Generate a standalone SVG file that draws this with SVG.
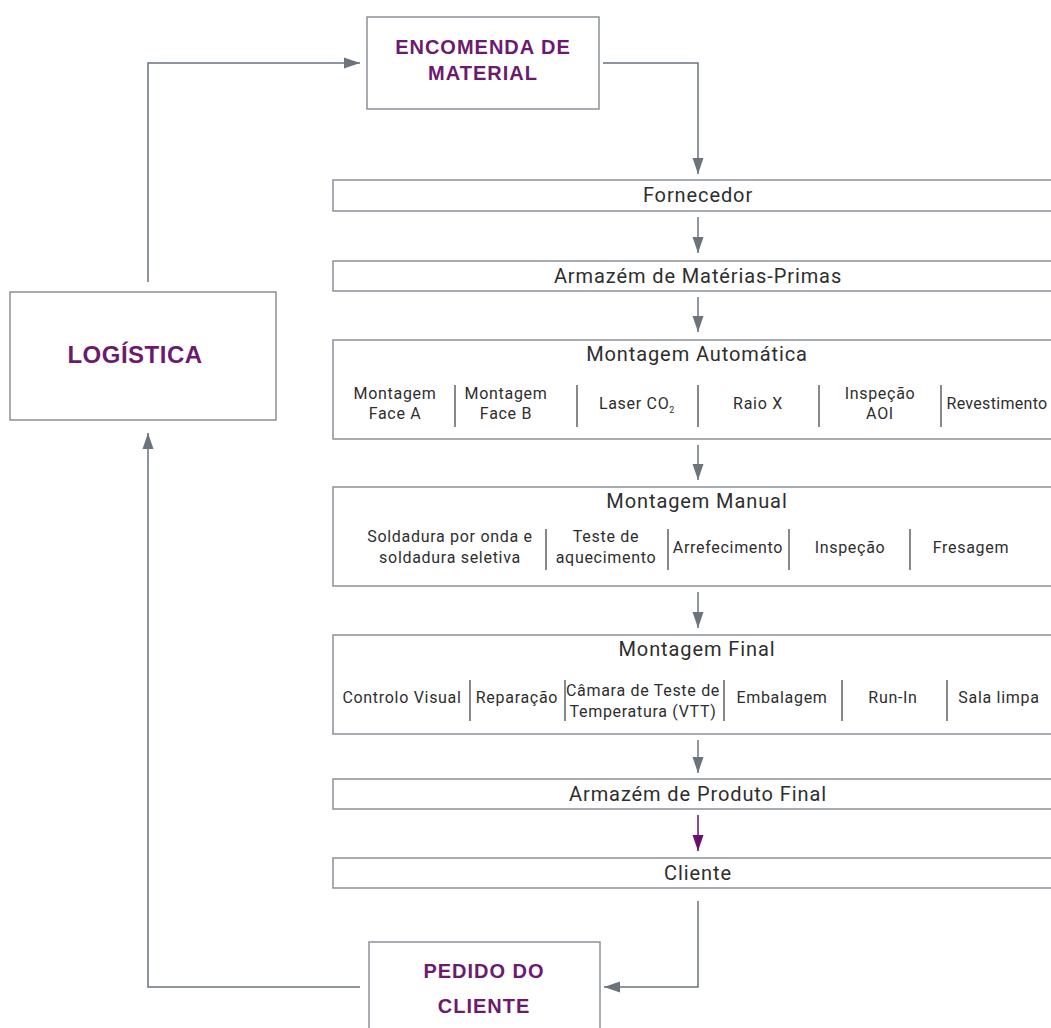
<svg xmlns="http://www.w3.org/2000/svg" width="1051" height="1028" viewBox="0 0 1051 1028">
<style>
.box{fill:#fff;stroke:#8a9099;stroke-width:1.5}
.bar{fill:#fff;stroke:#8a9099;stroke-width:1.5}
.div{stroke:#3a3a3a;stroke-width:1.2}
.con{fill:none;stroke:#6b737d;stroke-width:1.5}
.conp{fill:none;stroke:#6a0f6c;stroke-width:1.5}
.hd{font-family:"Liberation Sans",Arial,sans-serif;font-weight:bold;fill:#6c1a6f;text-anchor:middle;font-size:20px;letter-spacing:1px}
.t{font-family:Roboto,"Liberation Sans",sans-serif;fill:#2e2e2e;text-anchor:middle;font-size:20px;letter-spacing:0.9px}
.s{font-family:Roboto,"Liberation Sans",sans-serif;fill:#2e2e2e;text-anchor:middle;font-size:16px;letter-spacing:0.7px}
</style>
<defs>
<marker id="ag" markerUnits="userSpaceOnUse" markerWidth="16" markerHeight="12" refX="16" refY="6" orient="auto"><path d="M0,0.5 L16,6 L0,11.5 z" fill="#6b737d"/></marker>
<marker id="ap" markerUnits="userSpaceOnUse" markerWidth="16" markerHeight="12" refX="16" refY="6" orient="auto"><path d="M0,0.5 L16,6 L0,11.5 z" fill="#6a0f6c"/></marker>
</defs>
<rect width="1051" height="1028" fill="#fff"/>

<g id="connectors">
<polyline class="con" points="148,282 148,63 360,63" marker-end="url(#ag)"/>
<polyline class="con" points="603,63 698,63 698,174" marker-end="url(#ag)"/>
<line class="con" x1="698" y1="217" x2="698" y2="253" marker-end="url(#ag)"/>
<line class="con" x1="698" y1="297" x2="698" y2="332" marker-end="url(#ag)"/>
<line class="con" x1="698" y1="445" x2="698" y2="480" marker-end="url(#ag)"/>
<line class="con" x1="698" y1="592" x2="698" y2="628" marker-end="url(#ag)"/>
<line class="con" x1="698" y1="740" x2="698" y2="773" marker-end="url(#ag)"/>
<line class="conp" x1="698" y1="815" x2="698" y2="851" marker-end="url(#ap)"/>
<polyline class="con" points="698,901 698,987 604,987" marker-end="url(#ag)"/>
<polyline class="con" points="360,987 148,987 148,433" marker-end="url(#ag)"/>
</g>

<g id="encomenda">
<rect class="box" x="367" y="17" width="232" height="92"/>
<text class="hd" x="483" y="54">ENCOMENDA DE</text>
<text class="hd" x="483" y="80">MATERIAL</text>
</g>

<g id="logistica">
<rect class="box" x="10" y="292" width="266" height="128"/>
<text class="hd" x="135" y="363" style="font-size:24px;letter-spacing:0.5px">LOGÍSTICA</text>
</g>

<g id="pedido">
<rect class="box" x="369" y="942" width="231" height="110"/>
<text class="hd" x="484" y="978">PEDIDO DO</text>
<text class="hd" x="484" y="1013">CLIENTE</text>
</g>

<g id="fornecedor">
<rect class="bar" x="333" y="180" width="800" height="31"/>
<text class="t" x="698" y="202">Fornecedor</text>
</g>

<g id="armazem-mp">
<rect class="bar" x="333" y="261" width="800" height="30"/>
<text class="t" x="698" y="283">Armazém de Matérias-Primas</text>
</g>

<g id="montagem-automatica">
<rect class="bar" x="333" y="340" width="800" height="99"/>
<text class="t" x="697" y="361">Montagem Automática</text>
<line class="div" x1="455" y1="385" x2="455" y2="427"/>
<line class="div" x1="577" y1="385" x2="577" y2="427"/>
<line class="div" x1="698" y1="385" x2="698" y2="427"/>
<line class="div" x1="819" y1="385" x2="819" y2="427"/>
<line class="div" x1="941" y1="385" x2="941" y2="427"/>
<text class="s" x="395" y="399">Montagem</text>
<text class="s" x="395" y="419">Face A</text>
<text class="s" x="506" y="399">Montagem</text>
<text class="s" x="506" y="419">Face B</text>
<text class="s" x="637" y="409">Laser CO<tspan font-size="9" dy="4">2</tspan></text>
<text class="s" x="758" y="409">Raio X</text>
<text class="s" x="880" y="399">Inspeção</text>
<text class="s" x="880" y="419">AOI</text>
<text class="s" x="997" y="409" style="letter-spacing:0.3px">Revestimento</text>
</g>

<g id="montagem-manual">
<rect class="bar" x="333" y="487" width="800" height="99"/>
<text class="t" x="697" y="508">Montagem Manual</text>
<line class="div" x1="546" y1="529" x2="546" y2="570"/>
<line class="div" x1="668" y1="529" x2="668" y2="570"/>
<line class="div" x1="789" y1="529" x2="789" y2="570"/>
<line class="div" x1="910" y1="529" x2="910" y2="570"/>
<text class="s" x="450" y="542">Soldadura por onda e</text>
<text class="s" x="450" y="563">soldadura seletiva</text>
<text class="s" x="606" y="542">Teste de</text>
<text class="s" x="606" y="563">aquecimento</text>
<text class="s" x="728" y="553">Arrefecimento</text>
<text class="s" x="850" y="553">Inspeção</text>
<text class="s" x="971" y="553">Fresagem</text>
</g>

<g id="montagem-final">
<rect class="bar" x="333" y="635" width="800" height="99"/>
<text class="t" x="697" y="656">Montagem Final</text>
<line class="div" x1="470" y1="680" x2="470" y2="721"/>
<line class="div" x1="565" y1="680" x2="565" y2="721"/>
<line class="div" x1="724" y1="680" x2="724" y2="721"/>
<line class="div" x1="842" y1="680" x2="842" y2="721"/>
<line class="div" x1="947" y1="680" x2="947" y2="721"/>
<text class="s" x="402" y="703">Controlo Visual</text>
<text class="s" x="517" y="703">Reparação</text>
<text class="s" x="643" y="696">Câmara de Teste de</text>
<text class="s" x="643" y="717">Temperatura (VTT)</text>
<text class="s" x="782" y="703">Embalagem</text>
<text class="s" x="893" y="703">Run-In</text>
<text class="s" x="999" y="703">Sala limpa</text>
</g>

<g id="armazem-pf">
<rect class="bar" x="333" y="779" width="800" height="30"/>
<text class="t" x="698" y="801">Armazém de Produto Final</text>
</g>

<g id="cliente">
<rect class="bar" x="333" y="858" width="800" height="30"/>
<text class="t" x="698" y="880">Cliente</text>
</g>
</svg>
